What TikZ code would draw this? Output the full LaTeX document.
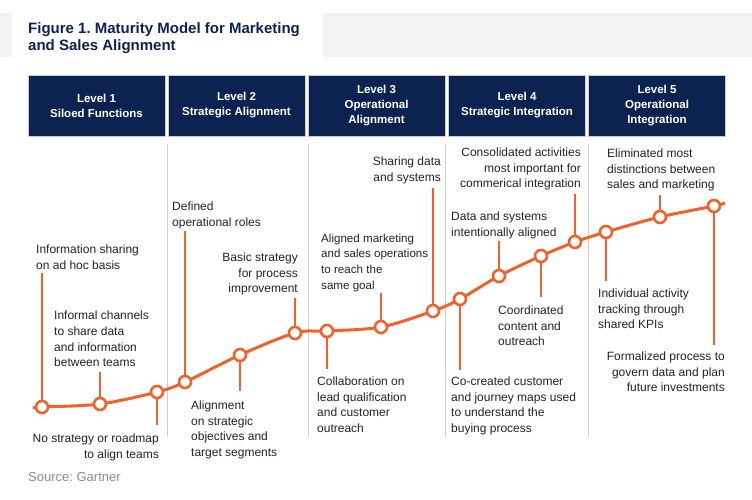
\documentclass[tikz,border=0pt]{standalone}
\usepackage{fontspec}
\setmainfont{Liberation Sans}
\usepackage{xcolor}
\usepackage{tikz}
\frenchspacing
\definecolor{gnavy}{RGB}{12,35,82}
\definecolor{gorange}{RGB}{240,98,42}
\definecolor{gtext}{RGB}{35,35,35}
\definecolor{gsep}{RGB}{205,205,205}
\definecolor{gbar}{RGB}{243,243,243}
\definecolor{gsource}{RGB}{140,140,140}
\tikzset{
	note/.style={font=\fontsize{12}{15.7}\selectfont, text=gtext, inner sep=0pt},
	notel/.style={note, align=left, anchor=north west},
	noter/.style={note, align=right, anchor=north east},
	level/.style={draw=gsep, line width=0.8pt, fill=gnavy, text=white, align=center,
		minimum width=137pt, minimum height=61pt, inner sep=0pt,
		font=\fontsize{11.5}{15}\selectfont\bfseries},
	dot/.style={circle, draw=gorange, fill=white, line width=2.6pt, minimum size=12pt, inner sep=0pt},
	lead/.style={gorange, line width=1.4pt},
	sep/.style={gsep, line width=0.9pt}
}
\begin{document}
\begin{tikzpicture}[x=1pt, y=-1pt]
					\useasboundingbox[fill=white] (0,0) rectangle (752,500);
					\coordinate (s) at (33,408);
					\coordinate (p1) at (42,407);
					\coordinate (p2) at (100,404);
					\coordinate (p3) at (157,392);
					\coordinate (p4) at (185,382);
					\coordinate (p5) at (240,355);
					\coordinate (p6) at (295,333);
					\coordinate (p7) at (327,331);
					\coordinate (p8) at (381,327);
					\coordinate (p9) at (433,311);
					\coordinate (p10) at (460,299);
					\coordinate (p11) at (499,276);
					\coordinate (p12) at (541,256);
					\coordinate (p13) at (575,242);
					\coordinate (p14) at (606,232);
					\coordinate (p15) at (660,217);
					\coordinate (p16) at (714,206);
					\coordinate (e) at (725,203);
					
					\fill[gbar] (0,13) rectangle (12,57);
					\fill[gbar] (323,13) rectangle (752,57);
					\node (title) at (28,22.5) [anchor=north west, inner sep=0pt, align=left, text=gnavy,
						font=\fontsize{15}{17}\selectfont\bfseries] {Figure 1. Maturity Model for Marketing\\and Sales Alignment};
					
					\node (h1) at (96.5,105.5) [level] {Level 1\\Siloed Functions};
					\node (h2) at (236.5,105.5) [level] {Level 2\\Strategic Alignment};
					\node (h3) at (376.5,105.5) [level] {Level 3\\Operational\\Alignment};
					\node (h4) at (517,105.5) [level] {Level 4\\Strategic Integration};
					\node (h5) at (657,105.5) [level] {Level 5\\Operational\\Integration};
					
					\draw[sep] (167,144) -- (167,437);
					\draw[sep] (308,144) -- (308,437);
					\draw[sep] (445,144) -- (445,437);
					\draw[sep] (588,144) -- (588,437);
					
					\draw[gorange, line width=3pt] plot[smooth, tension=0.55] coordinates {(s) (p1) (p2) (p3) (p4) (p5) (p6) (p7) (p8) (p9) (p10) (p11) (p12) (p13) (p14) (p15) (p16) (e)};
					
					\foreach \i in {1,...,16}
						\node (d\i) at (p\i) [dot] {};
					
					\coordinate (t1) at (42,273);
					\coordinate (t2) at (100,372);
					\coordinate (t3) at (157,425);
					\coordinate (t4) at (185,231);
					\coordinate (t5) at (240,391);
					\coordinate (t6) at (295,298);
					\coordinate (t7) at (327,369);
					\coordinate (t8) at (381,293);
					\coordinate (t9) at (433,188);
					\coordinate (t10) at (460,370);
					\coordinate (t11) at (499,241);
					\coordinate (t12) at (541,297);
					\coordinate (t13) at (575,194);
					\coordinate (t14) at (606,281);
					\coordinate (t15) at (660,195);
					\coordinate (t16) at (714,345);
					\foreach \i in {1,...,16}
						\draw[lead] (d\i) -- (t\i);
					
					\node (l1) at (36,244.5) [notel] {Information sharing\\on ad hoc basis};
					\node (l2) at (54,311) [notel] {Informal channels\\to share data\\and information\\between teams};
					\node (l3) at (159,433.5) [noter] {No strategy or roadmap\\to align teams};
					\node (l4) at (172,201.5) [notel] {Defined\\operational roles};
					\node (l5) at (191,400.5) [notel] {Alignment\\on strategic\\objectives and\\target segments};
					\node (l6) at (298,252.5) [noter] {Basic strategy\\for process\\improvement};
					\node (l7) at (317,376.5) [notel] {Collaboration on\\lead qualification\\and customer\\outreach};
					\node (l8) at (321,233.5) [notel, font=\fontsize{11.6}{15.7}\selectfont] {Aligned marketing\\and sales operations\\to reach the\\same goal};
					\node (l9) at (441,156.5) [noter] {Sharing data\\and systems};
					\node (l10) at (451,376.5) [notel] {Co-created customer\\and journey maps used\\to understand the\\buying process};
					\node (l11) at (451,211.5) [notel] {Data and systems\\intentionally aligned};
					\node (l12) at (498,305.5) [notel] {Coordinated\\content and\\outreach};
					\node (l13) at (581,147.5) [noter] {Consolidated activities\\most important for\\commerical integration};
					\node (l14) at (598,288.5) [notel] {Individual activity\\tracking through\\shared KPIs};
					\node (l15) at (607,148.5) [notel] {Eliminated most\\distinctions between\\sales and marketing};
					\node (l16) at (725,351.5) [noter] {Formalized process to\\govern data and plan\\future investments};
					
					\node (src) at (28,477) [anchor=west, inner sep=0pt, text=gsource, font=\fontsize{13}{15}\selectfont] {Source: Gartner};
				\end{tikzpicture}
\end{document}
